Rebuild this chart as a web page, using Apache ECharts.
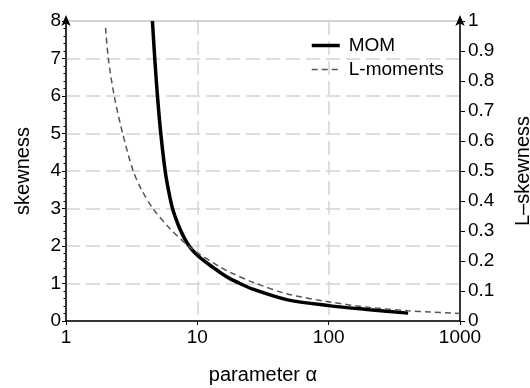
<!DOCTYPE html>
<html>
<head>
<meta charset="utf-8">
<script src="https://cdn.jsdelivr.net/npm/echarts@6/dist/echarts.min.js"></script>
<style>
html,body{margin:0;padding:0;background:#fff;}
#c{width:530px;height:388px;}
</style>
</head>
<body>
<div id="c"></div>
<script>
// MOM skewness (left axis)
const momAlpha = [4.55, 4.74, 4.97, 5.27, 5.69, 6.03, 6.47, 7.12, 7.91, 8.78, 10.1, 11.8, 13.4, 15.4, 17.7, 21.1, 26.4, 47.8, 100, 206, 403];
const momSkew  = [8.0, 7.0, 6.0, 5.0, 4.0, 3.49, 3.0, 2.58, 2.23, 1.97, 1.74, 1.55, 1.41, 1.26, 1.13, 1.0, 0.85, 0.57, 0.41, 0.30, 0.21];
// L-moments L-skewness (right axis)
const lmAlpha = [2.0, 2.1, 2.33, 2.7, 3.25, 3.76, 4.59, 6.04, 8.54, 10.2, 14.9, 17.7, 26.6, 47.8, 100, 206, 403, 589, 1000];
const lmTau   = [0.9775, 0.875, 0.75, 0.625, 0.5, 0.4375, 0.375, 0.3125, 0.25, 0.225, 0.18, 0.1625, 0.129, 0.091, 0.064, 0.045, 0.034, 0.03, 0.025];
const seriesNames = ['MOM', 'L-moments'];
const xName = 'parameter α';
const yLeftName = 'skewness';
const yRightName = 'L\u2013skewness';

const font = 'Liberation Sans, Arial, sans-serif';
const chart = echarts.init(document.getElementById('c'), null, {renderer: 'canvas'});
const gridDash = {color: '#d4d4d4', width: 1.5, type: [14, 6]};

chart.setOption({
  animation: false,
  grid: {left: 66, right: 70, top: 21, bottom: 67, containLabel: false, outerBoundsMode: 'none',
         show: true, borderColor: '#aaaaaa', borderWidth: 1, backgroundColor: 'transparent'},
  legend: {
    orient: 'vertical', left: 305, top: 31, itemWidth: 28, itemHeight: 14, itemGap: 5, align: 'left',
    itemStyle: {opacity: 0},
    textStyle: {fontFamily: font, fontSize: 19, color: '#000', padding: [0, 0, 0, 4]},
    data: [
      {name: seriesNames[0], lineStyle: {width: 3.5, color: '#000'}},
      {name: seriesNames[1], lineStyle: {width: 1.5, color: '#555', type: [6, 4]}}
    ]
  },
  xAxis: {
    type: 'log', logBase: 10, min: 1, max: 1000,
    name: xName, nameLocation: 'middle', nameGap: 44,
    nameTextStyle: {fontFamily: font, fontSize: 20, color: '#000'},
    axisLine: {lineStyle: {color: '#000', width: 1.5}},
    axisTick: {show: true, length: 4, lineStyle: {color: '#000'}},
    axisLabel: {fontFamily: font, fontSize: 19, color: '#000', margin: 7, formatter: v => String(Math.round(v))},
    splitLine: {show: true, showMinLine: false, showMaxLine: false, lineStyle: gridDash},
    minorTick: {show: false}
  },
  yAxis: [
    {
      type: 'value', min: 0, max: 8, interval: 1, position: 'left',
      name: yLeftName, nameLocation: 'middle', nameGap: 33, nameRotate: 90,
      nameTextStyle: {fontFamily: font, fontSize: 20, color: '#000'},
      axisLine: {show: true, symbol: ['none', 'arrow'], symbolSize: [7, 11], symbolOffset: [0, 6], lineStyle: {color: '#000', width: 1.5}},
      axisTick: {show: true, length: 4, lineStyle: {color: '#000'}},
      minorTick: {show: true, splitNumber: 5, length: 2.5, lineStyle: {color: '#000'}},
      axisLabel: {fontFamily: font, fontSize: 19, color: '#000', margin: 5},
      splitLine: {show: true, showMinLine: false, showMaxLine: false, lineStyle: gridDash}
    },
    {
      type: 'value', min: 0, max: 1, interval: 0.1, position: 'right',
      name: yRightName, nameLocation: 'middle', nameGap: 53, nameRotate: 90,
      nameTextStyle: {fontFamily: font, fontSize: 20, color: '#000'},
      axisLine: {show: true, symbol: ['none', 'arrow'], symbolSize: [7, 11], symbolOffset: [0, 6], lineStyle: {color: '#000', width: 1.5}},
      axisTick: {show: true, length: 5, lineStyle: {color: '#000'}},
      axisLabel: {fontFamily: font, fontSize: 19, color: '#000', margin: 8},
      splitLine: {show: false}
    }
  ],
  series: [
    {
      name: seriesNames[0], type: 'line', yAxisIndex: 0, symbol: 'none',
      smooth: 0.3,
      lineStyle: {color: '#000', width: 3.5},
      itemStyle: {color: '#000'},
      data: momAlpha.map((a, i) => [a, momSkew[i]])
    },
    {
      name: seriesNames[1], type: 'line', yAxisIndex: 1, symbol: 'none',
      smooth: 0.3,
      lineStyle: {color: '#555', width: 1.5, type: [6, 4]},
      itemStyle: {color: '#555'},
      data: lmAlpha.map((a, i) => [a, lmTau[i]])
    }
  ]
});
</script>
</body>
</html>
